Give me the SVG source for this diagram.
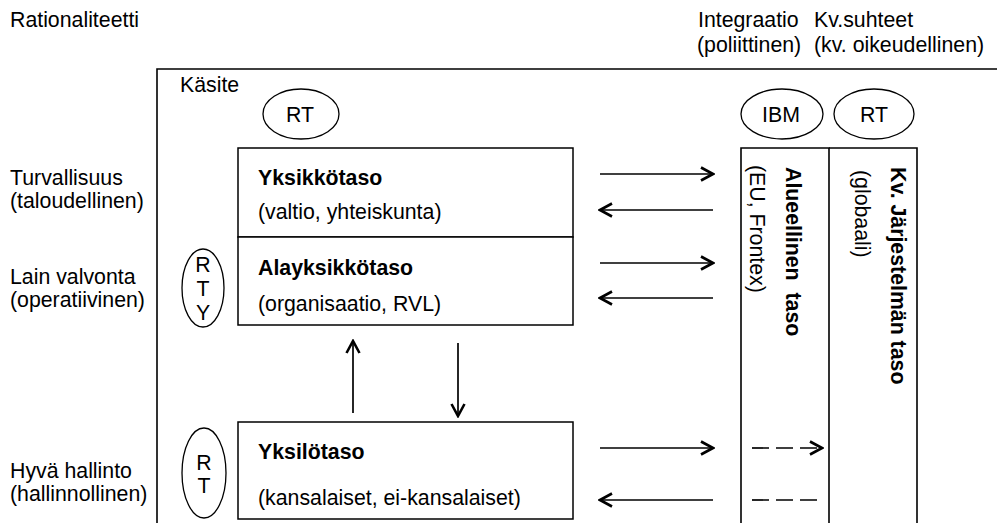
<svg xmlns="http://www.w3.org/2000/svg" width="997" height="523" viewBox="0 0 997 523">
  <style>
    text { font-family: "Liberation Sans", Arial, sans-serif; font-size: 21.3px; fill: #000; }
    .b { font-weight: bold; }
    .pre { white-space: pre; }
    .mid { text-anchor: middle; }
    .frame { fill: none; stroke: #000; stroke-width: 1.6; }
    .box { fill: #fff; stroke: #000; stroke-width: 1.5; }
    .oval { fill: #fff; stroke: #000; stroke-width: 1.3; }
    .conn { stroke: #000; stroke-width: 1.7; fill: none; }
    .dash { stroke-dasharray: 17 7; }
  </style>
  <defs>
    <marker id="head" viewBox="0 0 16 16" markerUnits="userSpaceOnUse" markerWidth="16" markerHeight="16" refX="14" refY="8" orient="auto">
      <path d="M2,1.5 L14,8 L2,14.5" fill="none" stroke="#000" stroke-width="2.6" stroke-dasharray="none"/>
    </marker>
  </defs>

  <!-- axis titles -->
  <g id="axis-labels">
    <text x="10" y="27">Rationaliteetti</text>
    <text x="698" y="27">Integraatio</text>
    <text x="697" y="52">(poliittinen)</text>
    <text x="814" y="27">Kv.suhteet</text>
    <text x="814" y="52">(kv. oikeudellinen)</text>
    <text x="10" y="185">Turvallisuus</text>
    <text x="10" y="208">(taloudellinen)</text>
    <text x="10" y="284">Lain valvonta</text>
    <text x="10" y="307">(operatiivinen)</text>
    <text x="10" y="478">Hyvä hallinto</text>
    <text x="10" y="501">(hallinnollinen)</text>
  </g>

  <!-- outer frame -->
  <g id="frame">
    <path class="frame" d="M157,523 V69 H997"/>
    <text x="180" y="92">Käsite</text>
  </g>

  <g id="oval-rt-top">
    <ellipse class="oval" cx="301" cy="114" rx="38" ry="25"/>
    <text class="mid" x="300" y="122">RT</text>
  </g>
  <g id="oval-ibm">
    <ellipse class="oval" cx="782" cy="114" rx="41" ry="25"/>
    <text class="mid" x="781" y="122">IBM</text>
  </g>
  <g id="oval-rt-right">
    <ellipse class="oval" cx="874" cy="114" rx="40" ry="25"/>
    <text class="mid" x="874" y="122">RT</text>
  </g>

  <g id="oval-rty">
    <ellipse class="oval" cx="203" cy="288" rx="21" ry="39"/>
    <text class="mid" x="203" y="272">R</text>
    <text class="mid" x="203" y="296">T</text>
    <text class="mid" x="203" y="320">Y</text>
  </g>
  <g id="oval-rt-bottom">
    <ellipse class="oval" cx="204" cy="473" rx="22" ry="45"/>
    <text class="mid" x="204" y="470">R</text>
    <text class="mid" x="204" y="493">T</text>
  </g>

  <!-- upper block: unit level and sub-unit level -->
  <g id="yksikkotaso">
    <rect class="box" x="238" y="148" width="335" height="89"/>
    <text class="b" x="258" y="185">Yksikkötaso</text>
    <text x="258" y="219">(valtio, yhteiskunta)</text>
  </g>
  <g id="alayksikkotaso">
    <rect class="box" x="238" y="237" width="335" height="88"/>
    <text class="b" x="258" y="275">Alayksikkötaso</text>
    <text x="258" y="311">(organisaatio, RVL)</text>
  </g>

  <g id="yksilotaso">
    <rect class="box" x="238" y="422" width="335" height="97"/>
    <text class="b" x="258" y="459">Yksilötaso</text>
    <text x="258" y="505">(kansalaiset, ei-kansalaiset)</text>
  </g>

  <!-- vertical columns: regional and international level -->
  <g id="alueellinen-taso">
    <path class="frame" d="M741,523 V148 H829 V523"/>
    <text class="b pre" transform="translate(786,167) rotate(90)">Alueellinen  taso</text>
    <text transform="translate(750,165) rotate(90)">(EU, Frontex)</text>
  </g>
  <g id="kv-jarjestelman-taso">
    <path class="frame" d="M829,148 H917 V523"/>
    <text class="b" transform="translate(891,167) rotate(90)">Kv. Järjestelmän taso</text>
    <text transform="translate(855,170) rotate(90)">(globaali)</text>
  </g>

  <g id="connectors">
    <line class="conn" x1="600" y1="174" x2="713" y2="174" marker-end="url(#head)"/>
    <line class="conn" x1="713" y1="210" x2="600" y2="210" marker-end="url(#head)"/>
    <line class="conn" x1="600" y1="263" x2="713" y2="263" marker-end="url(#head)"/>
    <line class="conn" x1="713" y1="298" x2="600" y2="298" marker-end="url(#head)"/>
    <line class="conn" x1="353" y1="413" x2="353" y2="341" marker-end="url(#head)"/>
    <line class="conn" x1="458" y1="343" x2="458" y2="416" marker-end="url(#head)"/>
    <line class="conn" x1="600" y1="448" x2="713" y2="448" marker-end="url(#head)"/>
    <line class="conn" x1="713" y1="500" x2="600" y2="500" marker-end="url(#head)"/>
    <line class="conn dash" x1="752" y1="448" x2="822" y2="448" marker-end="url(#head)"/>
    <line class="conn dash" x1="752" y1="500" x2="823" y2="500"/>
  </g>
</svg>
